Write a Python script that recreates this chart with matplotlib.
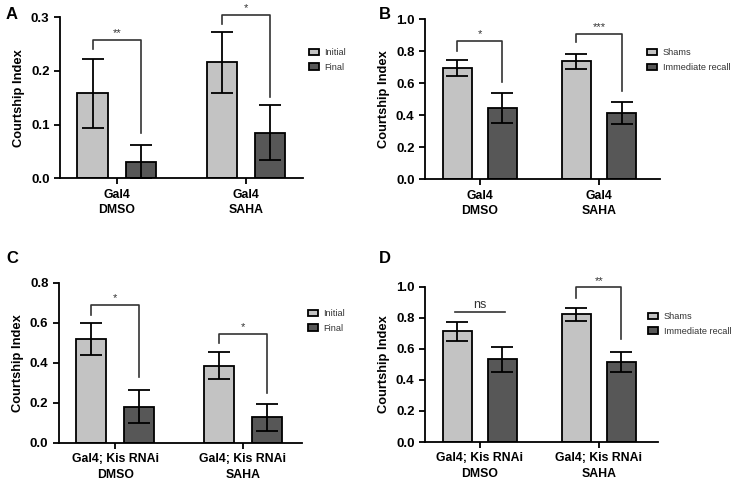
import numpy as np
import matplotlib.pyplot as plt

plt.rcParams['font.family'] = ['Liberation Sans', 'DejaVu Sans']

# ─── DATA ────────────────────────────────────────────────────────────────────
groups_ab = ['Gal4\nDMSO', 'Gal4\nSAHA']
groups_cd = ['Gal4; Kis RNAi\nDMSO', 'Gal4; Kis RNAi\nSAHA']
legend_if = ['Initial', 'Final']
legend_sr = ['Shams', 'Immediate recall']

a_first = [0.158, 0.216]
a_first_err = [0.064, 0.057]
a_second = [0.030, 0.085]
a_second_err = [0.031, 0.052]

b_first = [0.696, 0.738]
b_first_err = [0.050, 0.047]
b_second = [0.444, 0.414]
b_second_err = [0.093, 0.067]

c_first = [0.521, 0.386]
c_first_err = [0.080, 0.067]
c_second = [0.182, 0.128]
c_second_err = [0.082, 0.069]

d_first = [0.714, 0.823]
d_first_err = [0.060, 0.041]
d_second = [0.532, 0.515]
d_second_err = [0.082, 0.063]

# significance: (bracket y, left leg bottom, right leg bottom, label)
a_sig = [(0.258, 0.240, 0.084, '**'), (0.305, 0.288, 0.152, '*')]
b_sig = [(0.865, 0.800, 0.608, '*'), (0.910, 0.858, 0.552, '***')]
c_sig = [(0.690, 0.640, 0.331, '*'), (0.544, 0.499, 0.248, '*')]
d_sig = [(0.837, None, None, 'ns'), (0.996, 0.930, 0.664, '**')]

LIGHT = '#c3c3c3'
DARK = '#575757'


def panel(ax, first, first_err, second, second_err, groups, labels, sigs,
          ymax, yticks, width, off, xlim, leg_xy):
    x = np.arange(len(groups))
    ek = dict(elinewidth=1.3, capsize=8, capthick=1.3, ecolor='black')
    ax.bar(x - off, first, width, color=LIGHT, edgecolor='black', lw=1.3,
           yerr=first_err, error_kw=ek, label=labels[0])
    ax.bar(x + off, second, width, color=DARK, edgecolor='black', lw=1.3,
           yerr=second_err, error_kw=ek, label=labels[1])
    for i, (top, lb, rb, txt) in enumerate(sigs):
        xl, xr = x[i] - off, x[i] + off
        if lb is None:
            ax.plot([xl - 0.02, xr + 0.02], [top, top], color='#333333', lw=1.2,
                    clip_on=False)
            ax.text((xl + xr) / 2, top + ymax * 0.008, txt, ha='center',
                    va='bottom', fontsize=9, color='#333333')
        else:
            ax.plot([xl, xl, xr, xr], [lb, top, top, rb], color='#333333',
                    lw=1.2, clip_on=False)
            ax.text((xl + xr) / 2, top + ymax * 0.012, txt, ha='center',
                    va='bottom', fontsize=8, color='#333333')
    ax.set_ylim(0, ymax)
    ax.set_yticks(yticks)
    ax.set_yticklabels([f'{t:.1f}' for t in yticks], fontweight='bold',
                       fontsize=9.5)
    ax.set_xlim(*xlim)
    ax.set_xticks(x)
    ax.set_xticklabels(groups, fontweight='bold', fontsize=8.8, linespacing=1.35)
    ax.set_ylabel('Courtship Index', fontweight='bold', fontsize=9.3)
    for sp in ['top', 'right']:
        ax.spines[sp].set_visible(False)
    for sp in ['left', 'bottom']:
        ax.spines[sp].set_linewidth(1.3)
    ax.tick_params(axis='both', width=1.3, length=4)
    leg = ax.legend(frameon=False, loc='upper left', bbox_to_anchor=leg_xy,
                    fontsize=6.6, handlelength=1.1, handleheight=0.7,
                    handletextpad=0.6, labelspacing=0.6, borderaxespad=0)
    for t in leg.get_texts():
        t.set_color('#333333')


fig = plt.figure(figsize=(7.36, 4.79), dpi=100)
axA = fig.add_axes([0.0815, 0.628, 0.330, 0.336])
axB = fig.add_axes([0.5774, 0.626, 0.319, 0.334])
axC = fig.add_axes([0.080, 0.0752, 0.330, 0.334])
axD = fig.add_axes([0.5774, 0.0772, 0.317, 0.324])

panel(axA, a_first, a_first_err, a_second, a_second_err, groups_ab, legend_if,
      a_sig, 0.3, [0.0, 0.1, 0.2, 0.3], 0.235, 0.187, (-0.44, 1.44), (1.01, 0.83))
panel(axB, b_first, b_first_err, b_second, b_second_err, groups_ab, legend_sr,
      b_sig, 1.0, [0.0, 0.2, 0.4, 0.6, 0.8, 1.0], 0.245, 0.19, (-0.46, 1.51),
      (0.93, 0.84))
panel(axC, c_first, c_first_err, c_second, c_second_err, groups_cd, legend_if,
      c_sig, 0.8, [0.0, 0.2, 0.4, 0.6, 0.8], 0.235, 0.187, (-0.44, 1.46),
      (1.01, 0.86))
panel(axD, d_first, d_first_err, d_second, d_second_err, groups_cd, legend_sr,
      d_sig, 1.0, [0.0, 0.2, 0.4, 0.6, 0.8, 1.0], 0.245, 0.19, (-0.46, 1.5),
      (0.94, 0.86))

for lbl, (fx, fy) in zip('ABCD', [(0.008, 0.985), (0.515, 0.985),
                                  (0.008, 0.475), (0.515, 0.475)]):
    fig.text(fx, fy, lbl, fontsize=12, fontweight='bold', va='top', ha='left')

fig.savefig('out.png', dpi=100, facecolor='white')
